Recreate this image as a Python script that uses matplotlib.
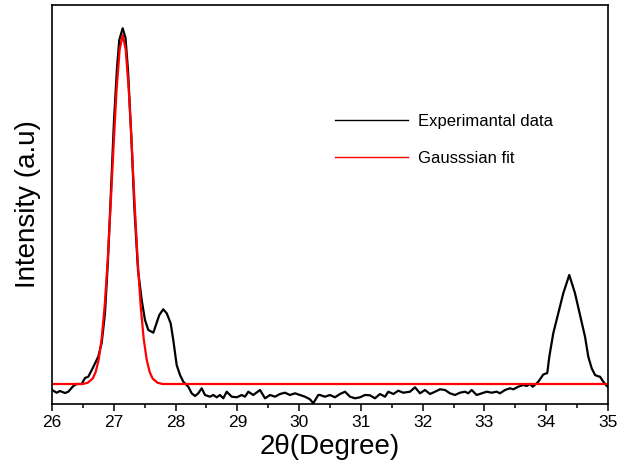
import matplotlib
matplotlib.use('Agg')
import matplotlib.pyplot as plt
from matplotlib.lines import Line2D
from matplotlib.ticker import MultipleLocator

plt.rcParams['font.family'] = ['Liberation Sans', 'DejaVu Sans']

# experimental XRD pattern (2theta in degree, intensity in a.u.)
exp_2theta = [26.00, 26.076, 26.129, 26.21, 26.264, 26.345, 26.40, 26.48, 26.534, 26.588,
              26.668, 26.749, 26.804, 26.858, 26.906, 26.955, 27.004, 27.052, 27.089, 27.144,
              27.19, 27.23, 27.279, 27.335, 27.392, 27.452, 27.505, 27.559, 27.64, 27.683,
              27.737, 27.80, 27.857, 27.921, 27.963, 28.018, 28.072, 28.125, 28.206, 28.261,
              28.315, 28.368, 28.423, 28.477, 28.557, 28.611, 28.666, 28.719, 28.773, 28.828,
              28.909, 28.99, 29.071, 29.124, 29.178, 29.258, 29.367, 29.448, 29.529, 29.61,
              29.69, 29.771, 29.852, 29.933, 30.014, 30.095, 30.176, 30.229, 30.31, 30.338,
              30.419, 30.50, 30.581, 30.662, 30.743, 30.824, 30.904, 30.985, 31.066, 31.147,
              31.228, 31.309, 31.39, 31.444, 31.525, 31.605, 31.686, 31.795, 31.876, 31.957,
              32.038, 32.119, 32.20, 32.28, 32.361, 32.442, 32.523, 32.604, 32.685, 32.738,
              32.793, 32.874, 32.955, 33.036, 33.117, 33.198, 33.252, 33.333, 33.413, 33.467,
              33.548, 33.629, 33.684, 33.737, 33.781, 33.834, 33.872, 33.91, 33.953, 34.017,
              34.05, 34.114, 34.195, 34.276, 34.373, 34.466, 34.547, 34.628, 34.681, 34.736,
              34.79, 34.827, 34.87, 34.924, 34.967, 35.005]
exp_intensity = [14, 11.3, 13, 11, 12.3, 18, 20, 20, 26, 27.3,
                 37, 47.3, 61, 91, 144, 214, 284, 336, 364, 375.7,
                 366, 334, 274, 194, 134, 104, 84, 74, 71.3, 79,
                 89, 94.7, 90.7, 80.7, 64, 39, 29, 22.3, 17.3, 10.7,
                 8, 10.7, 15.7, 9, 7.3, 9, 6.7, 9, 5.7, 12.3,
                 7.3, 6.7, 9, 7.3, 12.3, 9, 14, 5.7, 9, 7.3,
                 10, 11.3, 9, 10.7, 9, 7.3, 4.7, 0.7, 9, 9,
                 7.3, 9, 6.7, 10, 12.3, 7.3, 5.7, 6.7, 9, 8.7,
                 5.7, 10, 7.3, 12.3, 10, 13.3, 11.3, 12.3, 16.7, 10.7,
                 14, 10, 12.3, 14.7, 14, 10.7, 9, 11.3, 12.3, 10.7,
                 14, 9, 10.7, 12.3, 11.3, 12.3, 10.7, 14, 15.7, 14.7,
                 17.3, 19, 18, 20, 17.3, 20, 22.3, 25.7, 29.5, 31,
                 47.3, 70.7, 90.7, 110.7, 129, 110.7, 89, 67.3, 47.3, 35.7,
                 29, 28, 27.3, 22.3, 19, 16.7]

# Gaussian fit curve
fit_2theta = [26.0, 26.4965, 26.5775, 26.6584, 26.707, 26.7555, 26.8041, 26.8526, 26.9012,
              26.9498, 26.9983, 27.0469, 27.0954, 27.144, 27.1926, 27.2411, 27.2897, 27.3382,
              27.3868, 27.4354, 27.4839, 27.5325, 27.581, 27.6296, 27.7105, 27.7915, 35.0]
fit_intensity = [20, 20, 21.2, 25.4, 32, 44.3, 65.4, 98, 143.3,
                 199.4, 260, 315.6, 354.7, 369, 354.7, 315.6, 260, 199.4,
                 143.3, 98, 65.4, 44.3, 32, 25.4, 21.2, 20, 20]

fig = plt.figure(figsize=(6.19, 4.68), dpi=100)
ax = fig.add_axes([52 / 619, 64 / 468, 556 / 619, 399 / 468])

ax.plot(exp_2theta, exp_intensity, color='black', linewidth=1.6)
ax.plot(fit_2theta, fit_intensity, color='red', linewidth=1.6)

ax.set_xlim(26, 35)
ax.set_ylim(0, 399)
ax.xaxis.set_major_locator(MultipleLocator(1))
ax.xaxis.set_minor_locator(MultipleLocator(0.5))
ax.set_yticks([])
ax.tick_params(axis='x', which='major', direction='out', length=5, width=1.1,
               labelsize=12.5, pad=3)
ax.tick_params(axis='x', which='minor', direction='out', length=3, width=1.1)
for sp in ax.spines.values():
    sp.set_linewidth(1.2)

ax.set_xlabel('2θ(Degree)', fontsize=20, labelpad=3)
ax.set_ylabel('Intensity (a.u)', fontsize=20, labelpad=8)

handles = [Line2D([], [], color='black', linewidth=1.0),
           Line2D([], [], color='red', linewidth=1.0)]
ax.legend(handles, ['Experimantal data', 'Gausssian fit'],
          loc='upper left', bbox_to_anchor=(335 / 619, (468 - 114) / 468),
          bbox_transform=fig.transFigure, frameon=False, fontsize=12,
          handlelength=4.4, handletextpad=0.6, labelspacing=1.3,
          borderpad=0, borderaxespad=0)

fig.savefig('out.png', dpi=100)
